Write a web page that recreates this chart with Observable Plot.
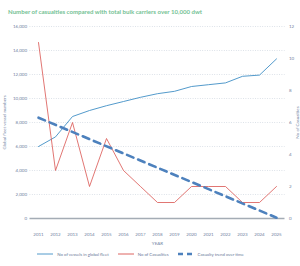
<!DOCTYPE html>
<html><head><meta charset="utf-8">
<script src="https://cdn.jsdelivr.net/npm/d3@7"></script>
<script src="https://cdn.jsdelivr.net/npm/@observablehq/plot@0.6"></script>
<style>
body{margin:0;background:#fff;font-family:Lato,"Open Sans",sans-serif;width:300px;height:266px;overflow:hidden}
#title{height:20px;box-sizing:border-box;padding:8px 0 0 8px;font-size:6.1px;font-weight:700;color:#74c194;white-space:nowrap;line-height:8px}
#legend{display:flex;justify-content:center;align-items:center;font-size:4.3px;color:#6b7a99;height:10px;margin-left:-10px;margin-top:1px}
#legend span.item{display:flex;align-items:center;margin-right:9px}
#legend svg{margin-right:4px}
</style></head><body>
<div id="title">Number of casualties compared with total bulk carriers over 10,000 dwt</div>
<div id="chart"></div>
<div id="legend"></div>
<script>
const years = [2011,2012,2013,2014,2015,2016,2017,2018,2019,2020,2021,2022,2023,2024,2025];
const vessels = [6000,6800,8500,9000,9400,9750,10100,10400,10600,11000,11150,11300,11850,11950,13300];
const casualties = [11,3,6,2,5,3,2,1,1,2,2,2,1,1,2];
const trendYears = [2011,2025];
const trendValues = [6.3,0.05];
const leftTicks = [0,2000,4000,6000,8000,10000,12000,14000,16000];
const rightTicks = [0,2,4,6,8,10,12];

const k = 16000/12;
const vesselData = years.map((y,i)=>({year:y, v:vessels[i]}));
const casData = years.map((y,i)=>({year:y, v:casualties[i]*k}));
const trendData = trendYears.map((y,i)=>({year:y, v:trendValues[i]*k}));

const tickColor = "#7384a3";
const chart = Plot.plot({
  width:300, height:228,
  marginTop:6, marginBottom:30, marginLeft:29.5, marginRight:15.5,
  style:{fontFamily:"Lato, sans-serif", fontSize:"4.5px", color:tickColor, background:"transparent"},
  x:{domain:[2010.5,2025.5]},
  y:{domain:[0,16000]},
  marks:[
    Plot.ruleY(leftTicks.slice(1), {stroke:"#c9d2dc", strokeDasharray:"0.8,1.6", strokeWidth:0.8}),
    Plot.axisY(leftTicks, {anchor:"left", tickSize:0, tickPadding:3, tickFormat:d=>d3.format(",")(d),
      label:"Global fleet vessel numbers", labelAnchor:"center", labelArrow:"none", labelOffset:27}),
    Plot.axisY(rightTicks.map(v=>v*k), {anchor:"right", tickSize:0, tickPadding:4, tickFormat:d=>Math.round(d/k),
      label:"No of Casualties", labelAnchor:"center", labelArrow:"none", labelOffset:14}),
    Plot.axisX(years, {anchor:"bottom", tickSize:0, tickPadding:14, tickFormat:d=>String(d),
      label:"YEAR", labelAnchor:"center", labelArrow:"none", labelOffset:26}),
    Plot.ruleY([0], {stroke:"#a4acb5", strokeWidth:1.6}),
    Plot.line(vesselData, {x:"year", y:"v", stroke:"#3f8fc5", strokeWidth:0.9}),
    Plot.line(casData, {x:"year", y:"v", stroke:"#d9534f", strokeWidth:0.8}),
    Plot.line(trendData, {x:"year", y:"v", stroke:"#4d81bd", strokeWidth:2.6, strokeDasharray:"7,5"})
  ]
});
document.getElementById("chart").appendChild(chart);

const legendItems = [
  {label:"No of vessels in global fleet", color:"#3f8fc5", w:0.9, dash:null, len:16},
  {label:"No of Casualties", color:"#d9534f", w:0.9, dash:null, len:16},
  {label:"Casualty trend over time", color:"#4d81bd", w:2.4, dash:"5,4", len:16}
];
const leg = document.getElementById("legend");
for (const it of legendItems) {
  const s = document.createElement("span"); s.className="item";
  s.innerHTML = `<svg width="${it.len}" height="4"><line x1="0" x2="${it.len}" y1="2" y2="2" stroke="${it.color}" stroke-width="${it.w}" ${it.dash?`stroke-dasharray="${it.dash}"`:""}/></svg><span>${it.label}</span>`;
  leg.appendChild(s);
}
</script>
</body></html>
